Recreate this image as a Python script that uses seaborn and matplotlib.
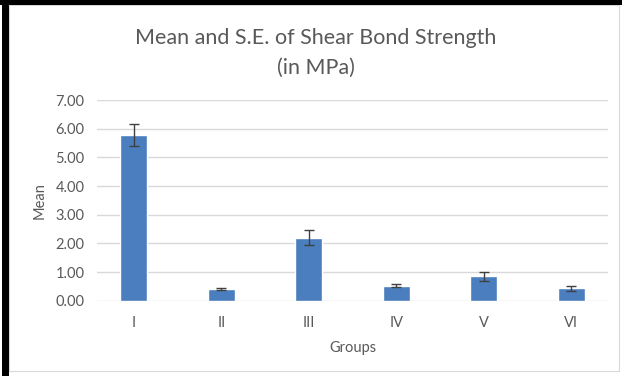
import matplotlib
matplotlib.use("Agg")
import matplotlib.pyplot as plt
import seaborn as sns
import pandas as pd
from matplotlib.patches import Rectangle

groups = ["I", "II", "III", "IV", "V", "VI"]
means = [5.77, 0.41, 2.20, 0.53, 0.85, 0.43]
se = [0.39, 0.05, 0.26, 0.05, 0.16, 0.08]
yticks = [0, 1, 2, 3, 4, 5, 6, 7]
ytick_labels = ["0.00", "1.00", "2.00", "3.00", "4.00", "5.00", "6.00", "7.00"]

sns.set_theme(style="white")
plt.rcParams['font.family'] = ['Lato', 'DejaVu Sans']

df = pd.DataFrame({"Groups": groups, "Mean": means})

W, H = 622, 376
fig = plt.figure(figsize=(W / 100, H / 100), dpi=100)
ax = fig.add_axes([97 / W, 1 - 300.7 / H, (608 - 97) / W, (300.7 - 100) / H])

sns.barplot(data=df, x="Groups", y="Mean", color="#4A7EBF", saturation=1,
            width=0.31, errorbar=None, ax=ax, zorder=3)
ax.errorbar(range(len(groups)), means, yerr=se, fmt="none", ecolor="#404040",
            elinewidth=1.0, capsize=3.3, capthick=1.0, zorder=4)

ax.set_ylim(0, 7)
ax.set_yticks(yticks)
ax.set_yticklabels(ytick_labels)
ax.grid(axis="y", color="#D9D9D9", linewidth=1.0, zorder=0)
ax.set_axisbelow(True)
for s in ax.spines.values():
    s.set_visible(False)
ax.tick_params(axis="both", length=0, labelsize=10.5, labelcolor="#595959")
ax.tick_params(axis="y", pad=9)
ax.tick_params(axis="x", pad=11)
ax.set_xlabel("Groups", fontsize=10.5, color="#595959", labelpad=8)
ax.set_ylabel("Mean", fontsize=10.5, color="#595959", labelpad=6)

fig.text(316 / W, 1 - 38 / H, "Mean and S.E. of Shear Bond Strength",
         ha="center", va="center", fontsize=15.5, color="#595959")
fig.text(316 / W, 1 - 68 / H, "(in MPa)",
         ha="center", va="center", fontsize=15.5, color="#595959")

# chart border and black frame
fig.patches.append(Rectangle((9 / W, 1 - 371 / H), (619 - 9) / W, (371 - 5) / H,
                             transform=fig.transFigure, fill=False,
                             edgecolor="#D9D9D9", linewidth=0.8))
fig.patches.append(Rectangle((2 / W, 0), 7 / W, 1, transform=fig.transFigure,
                             facecolor="black", edgecolor="none"))
fig.patches.append(Rectangle((0, 1 - 5 / H), 1, 5 / H, transform=fig.transFigure,
                             facecolor="black", edgecolor="none"))

fig.savefig("out.png", dpi=100)
